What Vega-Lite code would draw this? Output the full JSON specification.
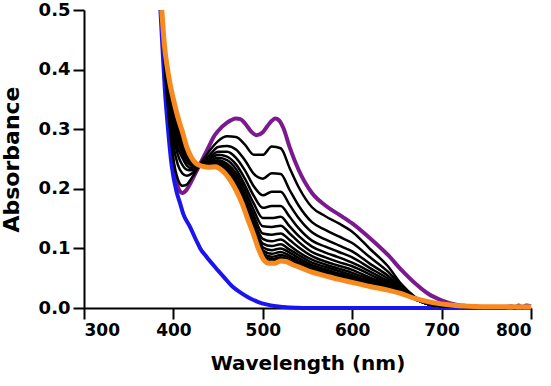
{
  "$schema": "https://vega.github.io/schema/vega-lite/v6.json",
  "width": 447,
  "height": 298,
  "autosize": {"type": "none"},
  "padding": {"left": 84, "top": 10, "right": 20, "bottom": 78},
  "config": {
    "view": {"stroke": null},
    "font": "DejaVu Sans",
    "axis": {
      "grid": false,
      "domainColor": "#000000",
      "domainWidth": 2,
      "tickColor": "#000000",
      "tickWidth": 2,
      "tickSize": 11,
      "labelColor": "#000000",
      "titleColor": "#000000",
      "labelFont": "DejaVu Sans",
      "titleFont": "DejaVu Sans",
      "labelFontWeight": "bold",
      "titleFontWeight": "bold",
      "labelFontSize": 17,
      "labelPadding": 3
    }
  },
  "datasets": {
    "purple": [
      {"nm": 387, "abs": 0.5}, {"nm": 390, "abs": 0.41}, {"nm": 395, "abs": 0.31},
      {"nm": 400, "abs": 0.237}, {"nm": 405, "abs": 0.203}, {"nm": 410, "abs": 0.193},
      {"nm": 415, "abs": 0.199}, {"nm": 420, "abs": 0.212}, {"nm": 425, "abs": 0.227},
      {"nm": 432, "abs": 0.248}, {"nm": 440, "abs": 0.272}, {"nm": 445, "abs": 0.287},
      {"nm": 450, "abs": 0.297}, {"nm": 460, "abs": 0.311}, {"nm": 470, "abs": 0.318},
      {"nm": 475, "abs": 0.317}, {"nm": 480, "abs": 0.31}, {"nm": 487, "abs": 0.296},
      {"nm": 493, "abs": 0.29}, {"nm": 500, "abs": 0.295}, {"nm": 505, "abs": 0.305},
      {"nm": 510, "abs": 0.314}, {"nm": 514, "abs": 0.318}, {"nm": 518, "abs": 0.315},
      {"nm": 523, "abs": 0.302}, {"nm": 530, "abs": 0.27}, {"nm": 540, "abs": 0.232},
      {"nm": 555, "abs": 0.193}, {"nm": 570, "abs": 0.172}, {"nm": 585, "abs": 0.157},
      {"nm": 600, "abs": 0.142}, {"nm": 620, "abs": 0.117}, {"nm": 640, "abs": 0.089},
      {"nm": 655, "abs": 0.064}, {"nm": 670, "abs": 0.042}, {"nm": 685, "abs": 0.024},
      {"nm": 700, "abs": 0.013}, {"nm": 715, "abs": 0.006}, {"nm": 730, "abs": 0.003},
      {"nm": 760, "abs": 0.001}, {"nm": 800, "abs": 0.001}
    ],
    "blue": [
      {"nm": 385.5, "abs": 0.5}, {"nm": 388, "abs": 0.43}, {"nm": 390.5, "abs": 0.365},
      {"nm": 394, "abs": 0.3}, {"nm": 398, "abs": 0.24}, {"nm": 403.5, "abs": 0.195},
      {"nm": 407, "abs": 0.178}, {"nm": 411, "abs": 0.158}, {"nm": 419, "abs": 0.135},
      {"nm": 426, "abs": 0.112}, {"nm": 430, "abs": 0.1}, {"nm": 437, "abs": 0.086},
      {"nm": 447, "abs": 0.068}, {"nm": 457, "abs": 0.051}, {"nm": 466, "abs": 0.036},
      {"nm": 476, "abs": 0.025}, {"nm": 486, "abs": 0.016}, {"nm": 495, "abs": 0.01},
      {"nm": 504, "abs": 0.006}, {"nm": 515, "abs": 0.003}, {"nm": 530, "abs": 0.001},
      {"nm": 560, "abs": 0.0}, {"nm": 700, "abs": 0.0}, {"nm": 770, "abs": 0.0},
      {"nm": 778, "abs": 0.003}, {"nm": 782, "abs": 0.0}, {"nm": 786, "abs": 0.004},
      {"nm": 790, "abs": 0.001}, {"nm": 795, "abs": 0.004}, {"nm": 800, "abs": 0.003}
    ],
    "orange": [
      {"nm": 387, "abs": 0.5}, {"nm": 390, "abs": 0.44}, {"nm": 393, "abs": 0.405},
      {"nm": 396, "abs": 0.378}, {"nm": 400, "abs": 0.35}, {"nm": 405, "abs": 0.32},
      {"nm": 410, "abs": 0.296}, {"nm": 415, "abs": 0.27}, {"nm": 420, "abs": 0.253},
      {"nm": 425, "abs": 0.243}, {"nm": 432, "abs": 0.238}, {"nm": 440, "abs": 0.236},
      {"nm": 447, "abs": 0.237}, {"nm": 455, "abs": 0.23}, {"nm": 462, "abs": 0.218},
      {"nm": 470, "abs": 0.198}, {"nm": 477, "abs": 0.175}, {"nm": 483, "abs": 0.15},
      {"nm": 489, "abs": 0.126}, {"nm": 495, "abs": 0.1}, {"nm": 501, "abs": 0.081},
      {"nm": 507, "abs": 0.075}, {"nm": 513, "abs": 0.075}, {"nm": 520, "abs": 0.079},
      {"nm": 526, "abs": 0.078}, {"nm": 533, "abs": 0.073}, {"nm": 540, "abs": 0.069},
      {"nm": 555, "abs": 0.06}, {"nm": 570, "abs": 0.054}, {"nm": 585, "abs": 0.048},
      {"nm": 600, "abs": 0.043}, {"nm": 620, "abs": 0.036}, {"nm": 640, "abs": 0.03},
      {"nm": 655, "abs": 0.024}, {"nm": 670, "abs": 0.016}, {"nm": 690, "abs": 0.009},
      {"nm": 710, "abs": 0.005}, {"nm": 730, "abs": 0.003}, {"nm": 760, "abs": 0.002},
      {"nm": 800, "abs": 0.002}
    ],
    "titration": [
      {"nm": 387, "s01": 0.5, "s02": 0.5, "s03": 0.5, "s04": 0.5, "s05": 0.5, "s06": 0.5, "s07": 0.5, "s08": 0.5, "s09": 0.5, "s10": 0.5, "s11": 0.5, "s12": 0.5, "s13": 0.5, "s14": 0.5},
      {"nm": 390, "s01": 0.413, "s02": 0.42, "s03": 0.424, "s04": 0.427, "s05": 0.43, "s06": 0.432, "s07": 0.434, "s08": 0.435, "s09": 0.436, "s10": 0.437, "s11": 0.438, "s12": 0.439, "s13": 0.439, "s14": 0.44},
      {"nm": 395, "s01": 0.319, "s02": 0.334, "s03": 0.344, "s04": 0.353, "s05": 0.359, "s06": 0.364, "s07": 0.369, "s08": 0.372, "s09": 0.375, "s10": 0.378, "s11": 0.38, "s12": 0.381, "s13": 0.383, "s14": 0.384},
      {"nm": 400, "s01": 0.25, "s02": 0.273, "s03": 0.289, "s04": 0.301, "s05": 0.311, "s06": 0.319, "s07": 0.326, "s08": 0.331, "s09": 0.335, "s10": 0.339, "s11": 0.342, "s12": 0.344, "s13": 0.347, "s14": 0.348},
      {"nm": 405, "s01": 0.216, "s02": 0.24, "s03": 0.257, "s04": 0.269, "s05": 0.28, "s06": 0.288, "s07": 0.295, "s08": 0.3, "s09": 0.305, "s10": 0.309, "s11": 0.312, "s12": 0.314, "s13": 0.316, "s14": 0.318},
      {"nm": 410, "s01": 0.205, "s02": 0.226, "s03": 0.24, "s04": 0.252, "s05": 0.26, "s06": 0.268, "s07": 0.274, "s08": 0.279, "s09": 0.283, "s10": 0.286, "s11": 0.289, "s12": 0.291, "s13": 0.293, "s14": 0.295},
      {"nm": 415, "s01": 0.207, "s02": 0.222, "s03": 0.232, "s04": 0.239, "s05": 0.245, "s06": 0.25, "s07": 0.255, "s08": 0.258, "s09": 0.261, "s10": 0.263, "s11": 0.265, "s12": 0.267, "s13": 0.268, "s14": 0.269},
      {"nm": 420, "s01": 0.217, "s02": 0.225, "s03": 0.231, "s04": 0.235, "s05": 0.239, "s06": 0.242, "s07": 0.244, "s08": 0.246, "s09": 0.248, "s10": 0.249, "s11": 0.25, "s12": 0.251, "s13": 0.252, "s14": 0.252},
      {"nm": 425, "s01": 0.229, "s02": 0.232, "s03": 0.234, "s04": 0.236, "s05": 0.237, "s06": 0.239, "s07": 0.24, "s08": 0.24, "s09": 0.241, "s10": 0.241, "s11": 0.242, "s12": 0.242, "s13": 0.243, "s14": 0.243},
      {"nm": 432, "s01": 0.246, "s02": 0.244, "s03": 0.243, "s04": 0.242, "s05": 0.241, "s06": 0.241, "s07": 0.24, "s08": 0.24, "s09": 0.239, "s10": 0.239, "s11": 0.239, "s12": 0.238, "s13": 0.238, "s14": 0.238},
      {"nm": 440, "s01": 0.263, "s02": 0.256, "s03": 0.252, "s04": 0.249, "s05": 0.246, "s06": 0.244, "s07": 0.242, "s08": 0.241, "s09": 0.24, "s10": 0.239, "s11": 0.238, "s12": 0.237, "s13": 0.237, "s14": 0.236},
      {"nm": 450, "s01": 0.28, "s02": 0.27, "s03": 0.262, "s04": 0.257, "s05": 0.252, "s06": 0.248, "s07": 0.245, "s08": 0.243, "s09": 0.241, "s10": 0.239, "s11": 0.238, "s12": 0.237, "s13": 0.236, "s14": 0.235},
      {"nm": 460, "s01": 0.288, "s02": 0.272, "s03": 0.262, "s04": 0.254, "s05": 0.248, "s06": 0.242, "s07": 0.238, "s08": 0.234, "s09": 0.232, "s10": 0.229, "s11": 0.227, "s12": 0.226, "s13": 0.224, "s14": 0.223},
      {"nm": 470, "s01": 0.287, "s02": 0.266, "s03": 0.252, "s04": 0.241, "s05": 0.233, "s06": 0.226, "s07": 0.22, "s08": 0.215, "s09": 0.211, "s10": 0.208, "s11": 0.205, "s12": 0.203, "s13": 0.201, "s14": 0.199},
      {"nm": 480, "s01": 0.274, "s02": 0.248, "s03": 0.231, "s04": 0.217, "s05": 0.206, "s06": 0.198, "s07": 0.19, "s08": 0.184, "s09": 0.179, "s10": 0.175, "s11": 0.172, "s12": 0.169, "s13": 0.167, "s14": 0.165},
      {"nm": 490, "s01": 0.257, "s02": 0.225, "s03": 0.204, "s04": 0.188, "s05": 0.175, "s06": 0.164, "s07": 0.155, "s08": 0.147, "s09": 0.142, "s10": 0.137, "s11": 0.133, "s12": 0.129, "s13": 0.127, "s14": 0.124},
      {"nm": 500, "s01": 0.257, "s02": 0.217, "s03": 0.189, "s04": 0.168, "s05": 0.151, "s06": 0.137, "s07": 0.125, "s08": 0.116, "s09": 0.108, "s10": 0.102, "s11": 0.097, "s12": 0.093, "s13": 0.089, "s14": 0.086},
      {"nm": 510, "s01": 0.271, "s02": 0.226, "s03": 0.195, "s04": 0.171, "s05": 0.151, "s06": 0.136, "s07": 0.123, "s08": 0.112, "s09": 0.104, "s10": 0.097, "s11": 0.091, "s12": 0.086, "s13": 0.082, "s14": 0.078},
      {"nm": 520, "s01": 0.268, "s02": 0.225, "s03": 0.195, "s04": 0.171, "s05": 0.153, "s06": 0.138, "s07": 0.125, "s08": 0.115, "s09": 0.107, "s10": 0.1, "s11": 0.094, "s12": 0.089, "s13": 0.085, "s14": 0.082},
      {"nm": 530, "s01": 0.235, "s02": 0.198, "s03": 0.173, "s04": 0.153, "s05": 0.137, "s06": 0.125, "s07": 0.114, "s08": 0.105, "s09": 0.098, "s10": 0.093, "s11": 0.088, "s12": 0.084, "s13": 0.08, "s14": 0.078},
      {"nm": 540, "s01": 0.203, "s02": 0.172, "s03": 0.151, "s04": 0.134, "s05": 0.121, "s06": 0.111, "s07": 0.102, "s08": 0.094, "s09": 0.089, "s10": 0.084, "s11": 0.08, "s12": 0.076, "s13": 0.074, "s14": 0.071},
      {"nm": 555, "s01": 0.169, "s02": 0.144, "s03": 0.127, "s04": 0.113, "s05": 0.103, "s06": 0.094, "s07": 0.087, "s08": 0.081, "s09": 0.076, "s10": 0.072, "s11": 0.069, "s12": 0.066, "s13": 0.064, "s14": 0.062},
      {"nm": 570, "s01": 0.154, "s02": 0.131, "s03": 0.115, "s04": 0.103, "s05": 0.093, "s06": 0.085, "s07": 0.078, "s08": 0.073, "s09": 0.069, "s10": 0.065, "s11": 0.062, "s12": 0.059, "s13": 0.057, "s14": 0.056},
      {"nm": 585, "s01": 0.142, "s02": 0.12, "s03": 0.105, "s04": 0.094, "s05": 0.085, "s06": 0.077, "s07": 0.071, "s08": 0.066, "s09": 0.062, "s10": 0.058, "s11": 0.055, "s12": 0.053, "s13": 0.051, "s14": 0.05},
      {"nm": 600, "s01": 0.128, "s02": 0.109, "s03": 0.095, "s04": 0.085, "s05": 0.076, "s06": 0.07, "s07": 0.064, "s08": 0.059, "s09": 0.055, "s10": 0.052, "s11": 0.05, "s12": 0.048, "s13": 0.046, "s14": 0.044},
      {"nm": 620, "s01": 0.099, "s02": 0.085, "s03": 0.074, "s04": 0.067, "s05": 0.061, "s06": 0.056, "s07": 0.051, "s08": 0.048, "s09": 0.045, "s10": 0.043, "s11": 0.041, "s12": 0.039, "s13": 0.038, "s14": 0.037},
      {"nm": 640, "s01": 0.07, "s02": 0.061, "s03": 0.054, "s04": 0.049, "s05": 0.045, "s06": 0.042, "s07": 0.04, "s08": 0.037, "s09": 0.036, "s10": 0.034, "s11": 0.033, "s12": 0.032, "s13": 0.031, "s14": 0.031},
      {"nm": 655, "s01": 0.04, "s02": 0.037, "s03": 0.034, "s04": 0.032, "s05": 0.03, "s06": 0.029, "s07": 0.028, "s08": 0.027, "s09": 0.026, "s10": 0.026, "s11": 0.025, "s12": 0.025, "s13": 0.025, "s14": 0.024},
      {"nm": 670, "s01": 0.019, "s02": 0.018, "s03": 0.017, "s04": 0.017, "s05": 0.016, "s06": 0.016, "s07": 0.016, "s08": 0.015, "s09": 0.015, "s10": 0.015, "s11": 0.015, "s12": 0.015, "s13": 0.015, "s14": 0.015},
      {"nm": 690, "s01": 0.005, "s02": 0.005, "s03": 0.005, "s04": 0.005, "s05": 0.005, "s06": 0.005, "s07": 0.005, "s08": 0.005, "s09": 0.005, "s10": 0.005, "s11": 0.005, "s12": 0.005, "s13": 0.005, "s14": 0.005},
      {"nm": 720, "s01": 0.002, "s02": 0.002, "s03": 0.002, "s04": 0.002, "s05": 0.002, "s06": 0.002, "s07": 0.002, "s08": 0.002, "s09": 0.002, "s10": 0.002, "s11": 0.002, "s12": 0.002, "s13": 0.002, "s14": 0.002},
      {"nm": 800, "s01": 0.001, "s02": 0.001, "s03": 0.001, "s04": 0.001, "s05": 0.001, "s06": 0.001, "s07": 0.001, "s08": 0.001, "s09": 0.001, "s10": 0.001, "s11": 0.001, "s12": 0.001, "s13": 0.001, "s14": 0.001}
    ]
  },
  "encoding": {
    "x": {
      "field": "nm",
      "type": "quantitative",
      "scale": {"domain": [300, 800], "nice": false, "zero": false},
      "axis": {
        "title": "Wavelength (nm)",
        "values": [300, 400, 500, 600, 700, 800],
        "titleFontSize": 20,
        "titlePadding": 15
      }
    },
    "y": {
      "field": "abs",
      "type": "quantitative",
      "scale": {"domain": [0, 0.5], "nice": false},
      "axis": {
        "title": "Absorbance",
        "values": [0, 0.1, 0.2, 0.3, 0.4, 0.5],
        "format": ".1f",
        "labelFontSize": 18,
        "titleFontSize": 22,
        "titlePadding": 15
      }
    }
  },
  "layer": [
    {
      "data": {"name": "purple"},
      "mark": {"type": "line", "color": "#7b1a8e", "strokeWidth": 4, "interpolate": "monotone"}
    },
    {
      "data": {"name": "blue"},
      "mark": {"type": "line", "color": "#1a14ee", "strokeWidth": 4, "interpolate": "monotone"}
    },
    {
      "data": {"name": "titration"},
      "transform": [
        {"fold": ["s01", "s02", "s03", "s04", "s05", "s06", "s07", "s08", "s09", "s10", "s11", "s12", "s13", "s14"], "as": ["step", "abs"]}
      ],
      "mark": {"type": "line", "color": "#000000", "strokeWidth": 2.5, "interpolate": "monotone"},
      "encoding": {"detail": {"field": "step", "type": "nominal"}}
    },
    {
      "data": {"name": "orange"},
      "mark": {"type": "line", "color": "#f7891f", "strokeWidth": 5, "interpolate": "monotone"}
    }
  ]
}
